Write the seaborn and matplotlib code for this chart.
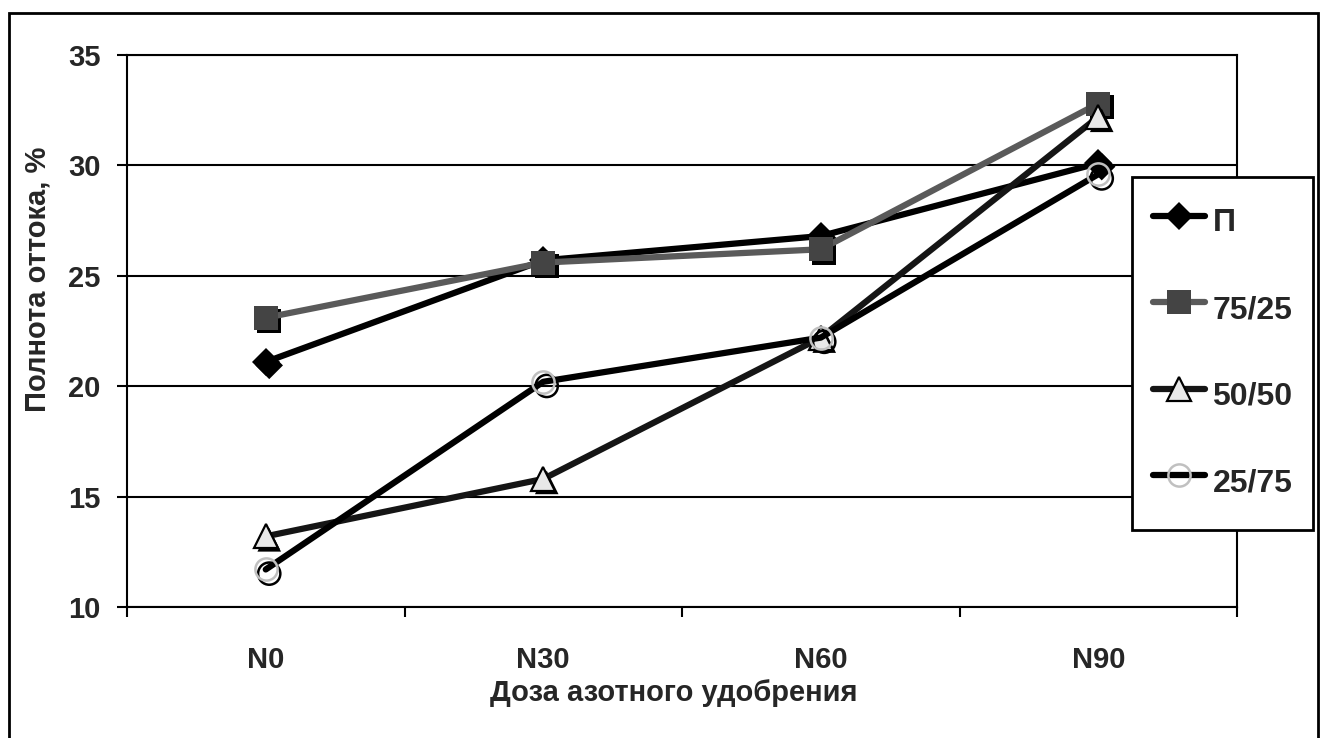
import matplotlib
matplotlib.use("Agg")
import matplotlib.pyplot as plt
import matplotlib.patheffects as pe
from matplotlib.ticker import FixedLocator
from matplotlib.patches import Rectangle
import seaborn as sns
import pandas as pd

# Nitrogen fertilizer doses (x categories) and outflow completeness, %
doses = ["N0", "N30", "N60", "N90"]
series_names = ["П", "75/25", "50/50", "25/75"]
p_vals = [21.1, 25.7, 26.8, 30.1]
v75_25 = [23.1, 25.6, 26.2, 32.8]
v50_50 = [13.2, 15.8, 22.2, 32.2]
v25_75 = [11.7, 20.2, 22.2, 29.6]
y_ticks = [10, 15, 20, 25, 30, 35]

df = pd.DataFrame({
    "dose": doses * 4,
    "series": [s for s in series_names for _ in doses],
    "value": p_vals + v75_25 + v50_50 + v25_75,
})

sns.set_style("white")
plt.rcParams["font.family"] = ["Liberation Sans", "DejaVu Sans"]
plt.rcParams["font.weight"] = "bold"
FS = 21
LEG_FS = 23

fig = plt.figure(figsize=(13.2, 7.38), dpi=100)
ax = fig.add_axes([127 / 1320, 131 / 738, 1110 / 1320, 552 / 738])

styles = {
    "П": dict(color="black", marker="D", ms=14, mfc="black", mec="black", mew=0, shadow="fill"),
    "75/25": dict(color="#5a5a5a", marker="s", ms=17, mfc="#444444", mec="#444444", mew=0, shadow="fill"),
    "50/50": dict(color="#151515", marker="^", ms=17, mfc="#e8e8e8", mec="black", mew=1.6, shadow="fill"),
    "25/75": dict(color="black", marker="o", ms=16, mfc="none", mec="#c0c0c0", mew=1.8, shadow="ring"),
}

for i, name in enumerate(series_names):
    st = styles[name]
    sub = df[df["series"] == name]
    z = 3 + i * 0.1
    # offset drop shadow under the markers
    if st["shadow"] == "fill":
        effects = [pe.SimplePatchShadow(offset=(2.5, -2.5), shadow_rgbFace="black", alpha=1.0)]
        lw_sh = 0
    else:
        effects = [pe.SimpleLineShadow(offset=(2.5, -3), shadow_color="black", alpha=1.0)]
        lw_sh = st["mew"]
    sns.scatterplot(data=sub, x="dose", y="value", marker=st["marker"], s=st["ms"] ** 2,
                    color="black", edgecolor="black", linewidth=lw_sh, legend=False,
                    ax=ax, zorder=z - 0.05, path_effects=effects)
    sns.lineplot(data=sub, x="dose", y="value", sort=False, errorbar=None, ax=ax,
                 color=st["color"], linewidth=4.5, marker=st["marker"],
                 markersize=st["ms"], markerfacecolor=st["mfc"],
                 markeredgecolor=st["mec"], markeredgewidth=st["mew"],
                 label=name, zorder=z)

ax.set_xlim(-0.5, 3.5)
ax.set_ylim(10, 35)
ax.set_yticks(y_ticks)
ax.xaxis.set_minor_locator(FixedLocator([-0.5, 0.5, 1.5, 2.5, 3.5]))

ax.tick_params(axis="x", which="major", bottom=True, length=0, pad=28, labelsize=FS)
ax.tick_params(axis="x", which="minor", bottom=True, length=7.2, width=1.5,
               direction="out", color="black")
ax.tick_params(axis="y", left=True, length=7.2, width=1.5, direction="out",
               color="black", pad=12, labelsize=FS)
for lab in ax.get_xticklabels() + ax.get_yticklabels():
    lab.set_fontweight("bold")

ax.yaxis.grid(True, color="black", linewidth=1.5)
ax.set_axisbelow(True)
for sp in ax.spines.values():
    sp.set_visible(True)
    sp.set_color("black")
    sp.set_linewidth(1.5)

ax.set_xlabel("Доза азотного удобрения", fontsize=FS, fontweight="bold")
ax.set_ylabel("Полнота оттока, %", fontsize=FS, fontweight="bold")
ax.xaxis.set_label_coords(0.493, -0.13)
ax.yaxis.set_label_coords(-0.0676, 0.594)

handles, labels = ax.get_legend_handles_labels()
leg = ax.legend(handles, labels, loc="upper left",
                bbox_to_anchor=(1132 / 1320, 1 - 177 / 738), bbox_transform=fig.transFigure,
                borderaxespad=0, frameon=True, fancybox=False, framealpha=1,
                edgecolor="black", prop={"size": LEG_FS, "weight": "bold"},
                handlelength=1.65, handletextpad=0.22, handleheight=2.1,
                labelspacing=1.1, borderpad=0.65)
leg.get_frame().set_linewidth(2)
leg.set_zorder(10)
# center each legend label vertically on its line sample
for column in leg._legend_handle_box.get_children():
    for row in column.get_children():
        row.align = "center"

# outer chart frame
fig.patches.append(Rectangle((8.5 / 1320, -0.05), (1317.5 - 8.5) / 1320, 1 - 12.5 / 738 + 0.05,
                             transform=fig.transFigure, fill=False, linewidth=2,
                             edgecolor="black"))

fig.savefig("out.png", dpi=100, facecolor="white")
